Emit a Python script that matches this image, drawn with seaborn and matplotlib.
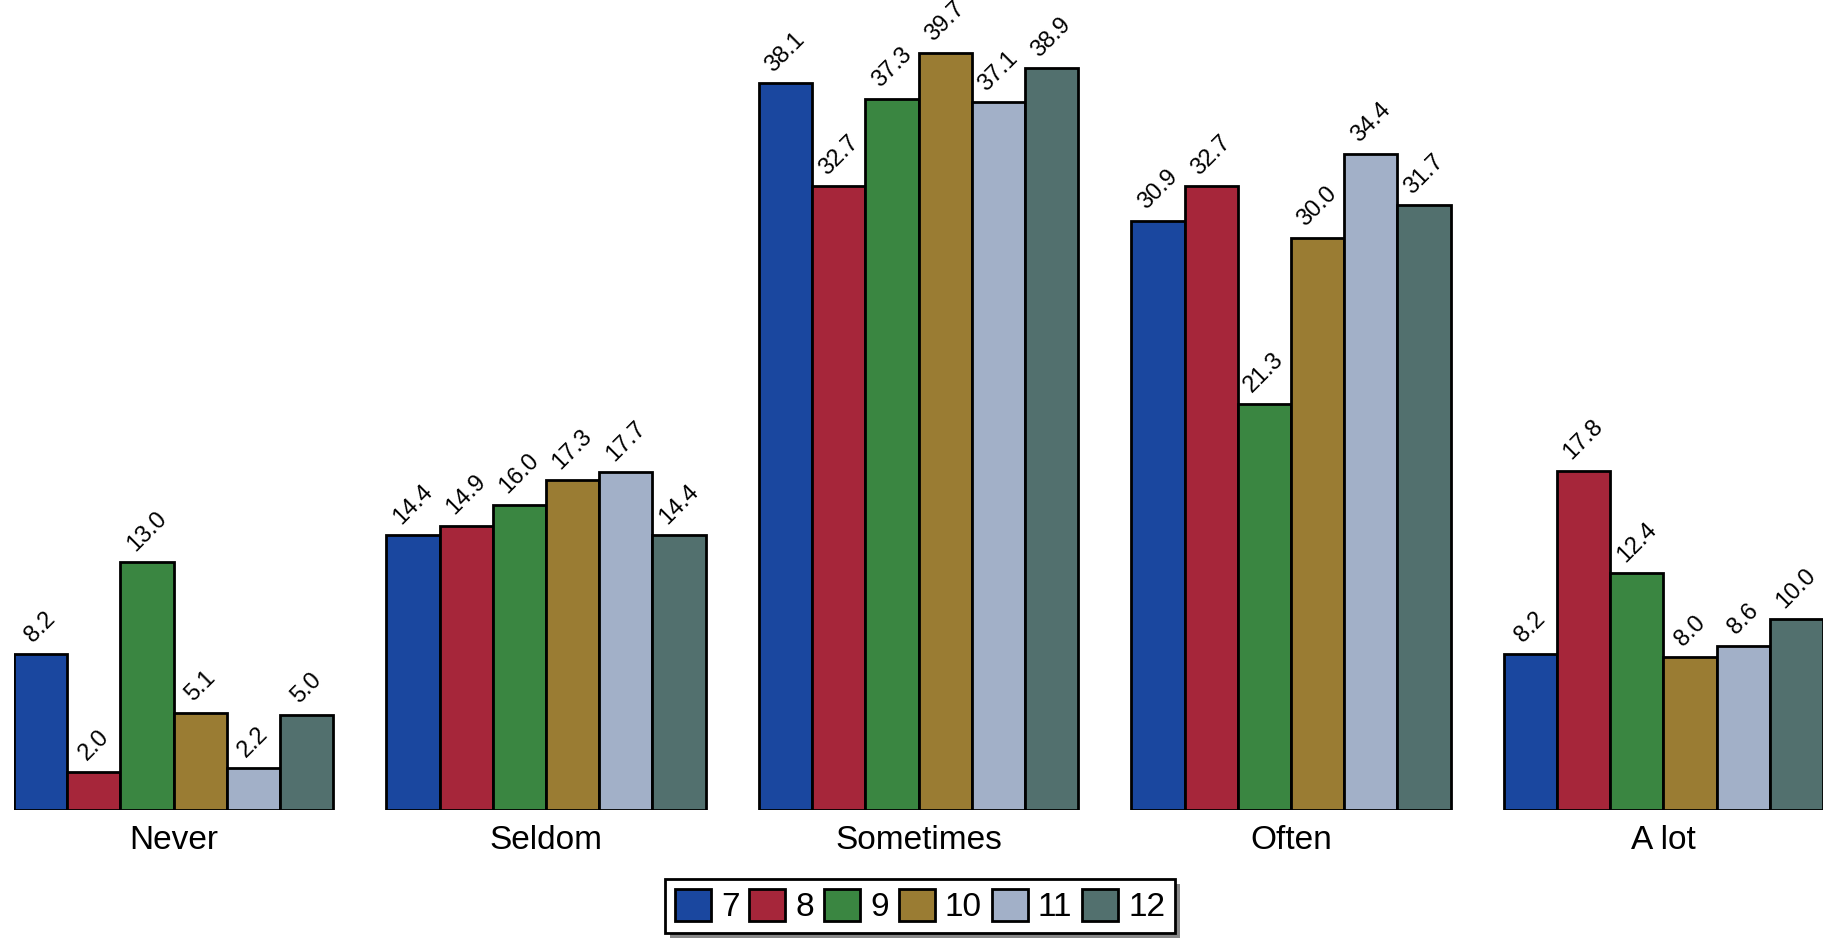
import matplotlib
matplotlib.use("Agg")
import matplotlib.pyplot as plt
from matplotlib.patches import Rectangle
import seaborn as sns
import pandas as pd

categories = ["Never", "Seldom", "Sometimes", "Often", "A lot"]
grades = ["7", "8", "9", "10", "11", "12"]
g7 = [8.2, 14.4, 38.1, 30.9, 8.2]
g8 = [2.0, 14.9, 32.7, 32.7, 17.8]
g9 = [13.0, 16.0, 37.3, 21.3, 12.4]
g10 = [5.1, 17.3, 39.7, 30.0, 8.0]
g11 = [2.2, 17.7, 37.1, 34.4, 8.6]
g12 = [5.0, 14.4, 38.9, 31.7, 10.0]
colors = ["#1A479F", "#A6263A", "#3A8641", "#9A7C33", "#A2B0C8", "#52706E"]

series = [g7, g8, g9, g10, g11, g12]
rows = []
for g, vals in zip(grades, series):
    for c, v in zip(categories, vals):
        rows.append({"category": c, "grade": g, "value": v})
df = pd.DataFrame(rows)

sns.set_style("white")
plt.rcParams["font.family"] = ["Liberation Sans", "DejaVu Sans"]
plt.rcParams["text.color"] = "black"
plt.rcParams["xtick.color"] = "black"

W, H = 1835, 938
fig = plt.figure(figsize=(W / 100, H / 100), dpi=100)
ax = fig.add_axes([14 / W, 128 / H, (1823 - 14) / W, 0.854])

sns.barplot(data=df, x="category", y="value", hue="grade", order=categories,
            hue_order=grades, palette=colors, width=6 / 7, dodge=True,
            edgecolor="black", linewidth=2, saturation=1, ax=ax, legend=True)

for cont in ax.containers:
    for bar in cont:
        h = bar.get_height()
        ax.annotate(f"{h:.1f}", (bar.get_x() + bar.get_width() / 2, h),
                    xytext=(0, 5), textcoords="offset points", color="black",
                    ha="center", va="bottom", rotation=45, fontsize=17)

ax.set_xlim(-3 / 7, 4 + 3 / 7)
ax.set_ylim(0, 42)
ax.set_xlabel("")
ax.set_ylabel("")
ax.set_yticks([])
ax.tick_params(axis="x", length=0, labelsize=24, pad=11, labelcolor="black")
for s in ax.spines.values():
    s.set_visible(False)

handles, labels = ax.get_legend_handles_labels()
ax.legend_.remove()
leg = fig.legend(handles, labels, loc="center", bbox_to_anchor=(920 / W, 1 - 906 / H),
                 ncol=6, frameon=True, fancybox=False, shadow=False, framealpha=1,
                 facecolor="white", fontsize=24, handlelength=1.08, handleheight=1.1,
                 handletextpad=0.3, columnspacing=0.3, borderpad=0.3, borderaxespad=0,
                 edgecolor="black")
leg.get_frame().set_linewidth(2)
leg.set_zorder(5)

fig.canvas.draw()
bb = leg.get_window_extent()
off = 5
shadow = Rectangle(((bb.x0 + off) / W, (bb.y0 - off) / H), bb.width / W, bb.height / H,
                   transform=fig.transFigure, facecolor="#888888", edgecolor="none", zorder=4)
fig.add_artist(shadow)

fig.savefig("out.png", dpi=100, facecolor="white")
